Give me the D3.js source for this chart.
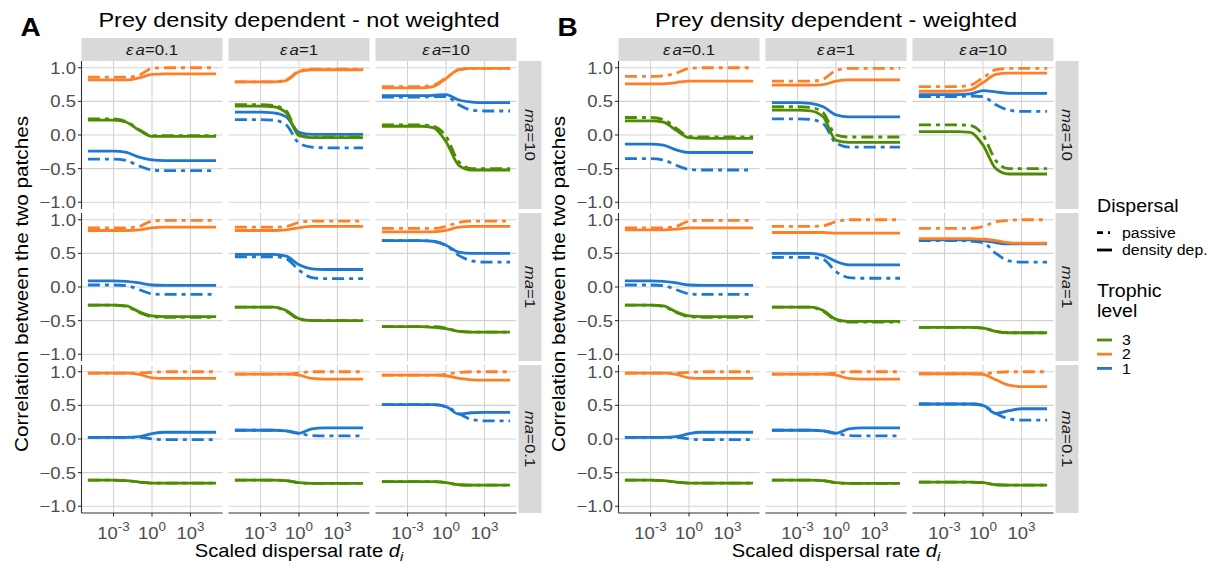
<!DOCTYPE html>
<html><head><meta charset="utf-8">
<script src="https://cdn.jsdelivr.net/npm/d3@7"></script>
<style>body{margin:0;background:#fff;} svg{display:block;} text{font-family:"Liberation Sans",Arial,sans-serif;}</style>
</head><body><svg id="c" width="1215" height="565"></svg>
<script>
// ---------- data ----------
const logX = [-5, -3, -2, -1, 0, 1, 2, 3, 5];          // log10 of scaled dispersal rate
const epsLabels = ["0.1", "1", "10"];                  // columns: εa
const maLabels = ["10", "1", "0.1"];                   // rows: ma
const trophicLevels = ["3", "2", "1"];
const dispersalTypes = ["passive", "density dep."];
const yTickValues = [-1, -0.5, 0, 0.5, 1];
const xTickExponents = [-3, 0, 3];
const panelTitles = ["Prey density dependent - not weighted", "Prey density dependent - weighted"];
const panelKeys = ["A", "B"];

// each facet: rows = [L3 passive, L3 dens.dep, L2 passive, L2 dens.dep, L1 passive, L1 dens.dep]
const A_ma10_ea01 = [
  [0.24, 0.24, 0.20, 0.08, -0.01, -0.01, -0.01, -0.01, -0.01],
  [0.22, 0.22, 0.19, 0.07, -0.02, -0.02, -0.02, -0.02, -0.02],
  [0.86, 0.86, 0.86, 0.89, 0.99, 1.0, 1.0, 1.0, 1.0],
  [0.82, 0.82, 0.82, 0.85, 0.90, 0.91, 0.91, 0.91, 0.91],
  [-0.36, -0.36, -0.38, -0.46, -0.52, -0.53, -0.53, -0.53, -0.53],
  [-0.24, -0.24, -0.26, -0.33, -0.37, -0.38, -0.38, -0.38, -0.38]];
const A_ma10_ea1 = [
  [0.45, 0.45, 0.44, 0.36, 0.0, -0.03, -0.03, -0.03, -0.03],
  [0.43, 0.43, 0.42, 0.33, -0.01, -0.04, -0.04, -0.04, -0.04],
  [0.79, 0.79, 0.79, 0.82, 0.95, 0.98, 0.98, 0.98, 0.98],
  [0.79, 0.79, 0.79, 0.81, 0.94, 0.97, 0.97, 0.97, 0.97],
  [0.23, 0.23, 0.22, 0.15, -0.12, -0.18, -0.19, -0.19, -0.19],
  [0.34, 0.34, 0.33, 0.27, 0.04, 0.01, 0.01, 0.01, 0.01]];
const A_ma10_ea10 = [
  [0.15, 0.15, 0.15, 0.13, -0.02, -0.40, -0.50, -0.50, -0.50],
  [0.13, 0.13, 0.13, 0.11, -0.10, -0.45, -0.52, -0.52, -0.52],
  [0.72, 0.72, 0.72, 0.74, 0.85, 0.97, 0.99, 0.99, 0.99],
  [0.70, 0.70, 0.70, 0.72, 0.84, 0.97, 0.99, 0.99, 0.99],
  [0.565, 0.565, 0.565, 0.57, 0.57, 0.45, 0.37, 0.357, 0.357],
  [0.585, 0.585, 0.585, 0.59, 0.60, 0.52, 0.49, 0.48, 0.48]];
const A_ma1_ea01 = [
  [-0.27, -0.27, -0.29, -0.38, -0.44, -0.45, -0.45, -0.45, -0.45],
  [-0.27, -0.27, -0.28, -0.37, -0.43, -0.44, -0.44, -0.44, -0.44],
  [0.88, 0.88, 0.88, 0.90, 0.98, 0.99, 0.99, 0.99, 0.99],
  [0.84, 0.84, 0.84, 0.85, 0.88, 0.89, 0.89, 0.89, 0.89],
  [0.03, 0.03, 0.02, -0.04, -0.10, -0.11, -0.11, -0.11, -0.11],
  [0.09, 0.09, 0.085, 0.06, 0.03, 0.025, 0.025, 0.025, 0.025]];
const A_ma1_ea1 = [
  [-0.30, -0.30, -0.30, -0.36, -0.48, -0.50, -0.50, -0.50, -0.50],
  [-0.30, -0.30, -0.30, -0.35, -0.47, -0.50, -0.50, -0.50, -0.50],
  [0.89, 0.89, 0.89, 0.90, 0.96, 0.98, 0.98, 0.98, 0.98],
  [0.84, 0.84, 0.84, 0.85, 0.88, 0.90, 0.90, 0.90, 0.90],
  [0.45, 0.45, 0.45, 0.42, 0.25, 0.14, 0.125, 0.125, 0.125],
  [0.485, 0.485, 0.485, 0.46, 0.33, 0.27, 0.26, 0.26, 0.26]];
const A_ma1_ea10 = [
  [-0.59, -0.59, -0.59, -0.59, -0.61, -0.66, -0.67, -0.67, -0.67],
  [-0.59, -0.59, -0.59, -0.60, -0.62, -0.66, -0.67, -0.67, -0.67],
  [0.87, 0.87, 0.87, 0.87, 0.90, 0.96, 0.98, 0.98, 0.98],
  [0.82, 0.82, 0.82, 0.82, 0.84, 0.89, 0.90, 0.90, 0.90],
  [0.69, 0.69, 0.69, 0.68, 0.62, 0.47, 0.39, 0.37, 0.37],
  [0.69, 0.69, 0.69, 0.68, 0.62, 0.52, 0.50, 0.50, 0.50]];
const A_ma01_ea01 = [
  [-0.61, -0.61, -0.62, -0.64, -0.655, -0.655, -0.655, -0.655, -0.655],
  [-0.61, -0.61, -0.62, -0.64, -0.655, -0.655, -0.655, -0.655, -0.655],
  [0.98, 0.98, 0.98, 0.98, 0.99, 1.0, 1.0, 1.0, 1.0],
  [0.98, 0.98, 0.98, 0.96, 0.91, 0.90, 0.90, 0.90, 0.90],
  [0.025, 0.025, 0.025, 0.025, 0.0, -0.01, -0.01, -0.01, -0.01],
  [0.025, 0.025, 0.025, 0.035, 0.08, 0.10, 0.10, 0.10, 0.10]];
const A_ma01_ea1 = [
  [-0.61, -0.61, -0.61, -0.62, -0.65, -0.66, -0.66, -0.66, -0.66],
  [-0.61, -0.61, -0.61, -0.62, -0.65, -0.66, -0.66, -0.66, -0.66],
  [0.965, 0.965, 0.965, 0.965, 0.98, 1.0, 1.0, 1.0, 1.0],
  [0.965, 0.965, 0.965, 0.965, 0.95, 0.90, 0.89, 0.89, 0.89],
  [0.13, 0.13, 0.13, 0.12, 0.085, 0.05, 0.045, 0.045, 0.045],
  [0.13, 0.13, 0.13, 0.12, 0.085, 0.15, 0.165, 0.165, 0.165]];
const A_ma01_ea10 = [
  [-0.635, -0.635, -0.635, -0.635, -0.65, -0.68, -0.685, -0.685, -0.685],
  [-0.635, -0.635, -0.635, -0.635, -0.65, -0.68, -0.685, -0.685, -0.685],
  [0.95, 0.95, 0.95, 0.95, 0.96, 0.99, 1.0, 1.0, 1.0],
  [0.95, 0.95, 0.95, 0.95, 0.94, 0.90, 0.88, 0.875, 0.875],
  [0.51, 0.51, 0.51, 0.51, 0.48, 0.38, 0.29, 0.27, 0.27],
  [0.51, 0.51, 0.51, 0.51, 0.48, 0.37, 0.39, 0.395, 0.395]];

const B_ma10_ea01 = [
  [0.26, 0.26, 0.23, 0.10, -0.02, -0.03, -0.03, -0.03, -0.03],
  [0.21, 0.21, 0.19, 0.07, -0.04, -0.05, -0.05, -0.05, -0.05],
  [0.87, 0.87, 0.88, 0.92, 0.99, 1.0, 1.0, 1.0, 1.0],
  [0.76, 0.76, 0.76, 0.78, 0.80, 0.80, 0.80, 0.80, 0.80],
  [-0.35, -0.35, -0.37, -0.45, -0.51, -0.52, -0.52, -0.52, -0.52],
  [-0.135, -0.135, -0.15, -0.22, -0.26, -0.26, -0.26, -0.26, -0.26]];
const B_ma10_ea1 = [
  [0.42, 0.42, 0.41, 0.33, 0.0, -0.03, -0.03, -0.03, -0.03],
  [0.37, 0.37, 0.36, 0.27, -0.08, -0.11, -0.11, -0.11, -0.11],
  [0.80, 0.80, 0.80, 0.83, 0.96, 0.99, 0.99, 0.99, 0.99],
  [0.74, 0.74, 0.74, 0.75, 0.80, 0.82, 0.82, 0.82, 0.82],
  [0.24, 0.24, 0.23, 0.17, -0.12, -0.18, -0.18, -0.18, -0.18],
  [0.48, 0.48, 0.47, 0.42, 0.30, 0.27, 0.27, 0.27, 0.27]];
const B_ma10_ea10 = [
  [0.15, 0.15, 0.15, 0.14, 0.0, -0.38, -0.50, -0.50, -0.50],
  [0.05, 0.05, 0.05, 0.04, -0.15, -0.50, -0.58, -0.58, -0.58],
  [0.72, 0.72, 0.72, 0.74, 0.85, 0.97, 0.99, 0.99, 0.99],
  [0.65, 0.65, 0.65, 0.67, 0.78, 0.90, 0.92, 0.92, 0.92],
  [0.57, 0.57, 0.57, 0.58, 0.57, 0.45, 0.37, 0.35, 0.35],
  [0.60, 0.60, 0.60, 0.61, 0.66, 0.64, 0.62, 0.62, 0.62]];
const B_ma1_ea01 = [
  [-0.27, -0.27, -0.29, -0.38, -0.44, -0.45, -0.45, -0.45, -0.45],
  [-0.27, -0.27, -0.28, -0.37, -0.43, -0.44, -0.44, -0.44, -0.44],
  [0.88, 0.88, 0.88, 0.90, 0.98, 0.99, 0.99, 0.99, 0.99],
  [0.85, 0.85, 0.85, 0.86, 0.88, 0.88, 0.88, 0.88, 0.88],
  [0.03, 0.03, 0.02, -0.04, -0.10, -0.11, -0.11, -0.11, -0.11],
  [0.09, 0.09, 0.085, 0.06, 0.03, 0.025, 0.025, 0.025, 0.025]];
const B_ma1_ea1 = [
  [-0.30, -0.30, -0.30, -0.36, -0.49, -0.52, -0.52, -0.52, -0.52],
  [-0.30, -0.30, -0.30, -0.35, -0.48, -0.51, -0.51, -0.51, -0.51],
  [0.90, 0.90, 0.90, 0.91, 0.97, 1.0, 1.0, 1.0, 1.0],
  [0.81, 0.81, 0.81, 0.81, 0.80, 0.80, 0.80, 0.80, 0.80],
  [0.44, 0.44, 0.44, 0.41, 0.23, 0.14, 0.13, 0.13, 0.13],
  [0.50, 0.50, 0.50, 0.47, 0.38, 0.33, 0.33, 0.33, 0.33]];
const B_ma1_ea10 = [
  [-0.60, -0.60, -0.60, -0.60, -0.61, -0.66, -0.68, -0.68, -0.68],
  [-0.60, -0.60, -0.60, -0.60, -0.61, -0.66, -0.68, -0.68, -0.68],
  [0.87, 0.87, 0.87, 0.87, 0.90, 0.97, 0.99, 1.0, 1.0],
  [0.72, 0.72, 0.72, 0.72, 0.71, 0.69, 0.66, 0.65, 0.65],
  [0.69, 0.69, 0.69, 0.68, 0.66, 0.50, 0.39, 0.37, 0.37],
  [0.70, 0.70, 0.70, 0.70, 0.69, 0.66, 0.64, 0.64, 0.64]];
const B_ma01_ea01 = [
  [-0.61, -0.61, -0.62, -0.64, -0.655, -0.655, -0.655, -0.655, -0.655],
  [-0.61, -0.61, -0.62, -0.64, -0.655, -0.655, -0.655, -0.655, -0.655],
  [0.98, 0.98, 0.98, 0.98, 0.99, 1.0, 1.0, 1.0, 1.0],
  [0.98, 0.98, 0.98, 0.96, 0.91, 0.90, 0.90, 0.90, 0.90],
  [0.025, 0.025, 0.025, 0.025, 0.0, -0.01, -0.01, -0.01, -0.01],
  [0.025, 0.025, 0.025, 0.035, 0.08, 0.10, 0.10, 0.10, 0.10]];
const B_ma01_ea1 = [
  [-0.61, -0.61, -0.61, -0.62, -0.65, -0.66, -0.66, -0.66, -0.66],
  [-0.61, -0.61, -0.61, -0.62, -0.65, -0.66, -0.66, -0.66, -0.66],
  [0.965, 0.965, 0.965, 0.965, 0.98, 1.0, 1.0, 1.0, 1.0],
  [0.965, 0.965, 0.965, 0.965, 0.95, 0.90, 0.89, 0.89, 0.89],
  [0.13, 0.13, 0.13, 0.12, 0.085, 0.05, 0.045, 0.045, 0.045],
  [0.13, 0.13, 0.13, 0.12, 0.085, 0.15, 0.165, 0.165, 0.165]];
const B_ma01_ea10 = [
  [-0.64, -0.64, -0.64, -0.64, -0.65, -0.68, -0.685, -0.685, -0.685],
  [-0.64, -0.64, -0.64, -0.64, -0.65, -0.68, -0.685, -0.685, -0.685],
  [0.97, 0.97, 0.97, 0.97, 0.97, 0.99, 1.0, 1.0, 1.0],
  [0.97, 0.97, 0.97, 0.97, 0.96, 0.88, 0.80, 0.78, 0.78],
  [0.52, 0.52, 0.52, 0.52, 0.50, 0.38, 0.30, 0.28, 0.28],
  [0.52, 0.52, 0.52, 0.52, 0.50, 0.38, 0.42, 0.45, 0.45]];

const facetsA = [[A_ma10_ea01, A_ma10_ea1, A_ma10_ea10], [A_ma1_ea01, A_ma1_ea1, A_ma1_ea10], [A_ma01_ea01, A_ma01_ea1, A_ma01_ea10]];
const facetsB = [[B_ma10_ea01, B_ma10_ea1, B_ma10_ea10], [B_ma1_ea01, B_ma1_ea1, B_ma1_ea10], [B_ma01_ea01, B_ma01_ea1, B_ma01_ea10]];

// ---------- layout & style ----------
const levelColors = ["#4d8c00", "#ff7f27", "#1e78d2"];
const dashPassive = "12,5,4,5";
const PW = 141, PH = 148, GX = 6, GY = 4, TOP = 61, STRIP = 23;
const panelLefts = [81.5, 618.5];
const SX = 1.12; // glyph width factor to match the wider rendering of the reference font

const svg = d3.select("#c");
const x = d3.scaleLog().domain([Math.pow(10, -5.5), Math.pow(10, 5.5)]).range([0, PW]);
const y = d3.scaleLinear().domain([-1.1, 1.1]).range([PH, 0]);
const line = d3.line().x(d => x(Math.pow(10, d[0]))).y(d => y(d[1])).curve(d3.curveMonotoneX);

function label(parent, tx, ty, size, anchor, rot) {
  return parent.append("text")
    .attr("transform", `translate(${tx},${ty})${rot ? ` rotate(${rot})` : ""} scale(${SX},1)`)
    .attr("font-size", size).attr("text-anchor", anchor || "start");
}

svg.append("rect").attr("width", 1215).attr("height", 565).attr("fill", "#fff");

[facetsA, facetsB].forEach((facets, p) => {
  const L = panelLefts[p];
  const right = L + 3 * PW + 2 * GX;
  const g = svg.append("g");
  label(g, L - 61, 35.5, 25, "start").attr("font-weight", "bold").text(panelKeys[p]);
  label(g, (L + right) / 2, 27, 21, "middle").attr("fill", "#000").text(panelTitles[p]);

  for (let r = 0; r < 3; r++) {
    for (let c = 0; c < 3; c++) {
      const px = L + c * (PW + GX), py = TOP + r * (PH + GY);
      const fg = g.append("g").attr("transform", `translate(${px},${py})`);
      fg.append("rect").attr("width", PW).attr("height", PH).attr("fill", "#fff");
      fg.selectAll(".gy").data(yTickValues).join("line")
        .attr("x1", 0).attr("x2", PW).attr("y1", d => y(d)).attr("y2", d => y(d))
        .attr("stroke", "#d3d3d3").attr("stroke-width", 1.1);
      fg.selectAll(".gx").data(xTickExponents).join("line")
        .attr("y1", 0).attr("y2", PH).attr("x1", d => x(Math.pow(10, d))).attr("x2", d => x(Math.pow(10, d)))
        .attr("stroke", "#d3d3d3").attr("stroke-width", 1.1);
      const series = facets[r][c];
      for (let li = 2; li >= 0; li--) {
        for (let di = 0; di < 2; di++) {
          const vals = series[li * 2 + di];
          const pts = logX.map((lx, i) => [lx, vals[i]]);
          fg.append("path").attr("d", line(pts)).attr("fill", "none")
            .attr("stroke", levelColors[li]).attr("stroke-width", 2.8)
            .attr("stroke-dasharray", di === 0 ? dashPassive : null);
        }
      }
      if (c === 0) {
        fg.append("line").attr("x1", 0).attr("x2", 0).attr("y1", 0).attr("y2", PH).attr("stroke", "#333").attr("stroke-width", 1.1);
        yTickValues.forEach(v => {
          fg.append("line").attr("x1", -3.5).attr("x2", 0).attr("y1", y(v)).attr("y2", y(v)).attr("stroke", "#333").attr("stroke-width", 1.1);
          label(fg, -5.5, y(v), 16.5, "end").attr("dy", "0.36em").attr("fill", "#4d4d4d").text(d3.format(".1f")(v));
        });
      }
      if (r === 2) {
        fg.append("line").attr("x1", 0).attr("x2", PW).attr("y1", PH).attr("y2", PH).attr("stroke", "#333").attr("stroke-width", 1.1);
        xTickExponents.forEach(e => {
          const xx = x(Math.pow(10, e));
          fg.append("line").attr("x1", xx).attr("x2", xx).attr("y1", PH).attr("y2", PH + 3.5).attr("stroke", "#333").attr("stroke-width", 1.1);
          const t = label(fg, xx, PH + 25.5, 16.5, "middle").attr("fill", "#4d4d4d");
          t.append("tspan").text("10");
          t.append("tspan").attr("dy", -7.5).attr("font-size", 12).text(String(e));
        });
      }
      if (r === 0) {
        fg.append("rect").attr("x", 0).attr("y", -STRIP).attr("width", PW).attr("height", STRIP).attr("fill", "#d9d9d9");
        const t = label(fg, PW / 2, -STRIP / 2, 15, "middle").attr("dy", "0.36em").attr("fill", "#1a1a1a");
        t.append("tspan").attr("font-style", "italic").text("ε");
        t.append("tspan").attr("font-style", "italic").attr("dx", 2).text("a");
        t.append("tspan").text("=" + epsLabels[c]);
      }
      if (c === 2) {
        fg.append("rect").attr("x", PW + 2).attr("y", 0).attr("width", STRIP).attr("height", PH).attr("fill", "#d9d9d9");
        const t = label(fg, PW + 2 + STRIP / 2, PH / 2, 15, "middle", 90).attr("dy", "0.36em").attr("fill", "#1a1a1a");
        t.append("tspan").attr("font-style", "italic").text("ma");
        t.append("tspan").text("=" + maLabels[r]);
      }
    }
  }
  const midY = TOP + (3 * PH + 2 * GY) / 2;
  label(g, L - 54, midY - 3, 18.5, "middle", -90).attr("fill", "#000").text("Correlation between the two patches");
  const xt = label(g, (L + right) / 2, 557, 18, "middle").attr("fill", "#000");
  xt.append("tspan").text("Scaled dispersal rate ");
  xt.append("tspan").attr("font-style", "italic").text("d");
  xt.append("tspan").attr("font-style", "italic").attr("font-size", 13).attr("dy", 4).text("i");
});

// ---------- legend ----------
const lg = svg.append("g").attr("transform", "translate(1097,0)");
label(lg, 0, 212, 17.5, "start").text("Dispersal");
dispersalTypes.forEach((d, i) => {
  const yy = 232.7 + i * 17.3;
  lg.append("line").attr("x1", 0).attr("x2", 15).attr("y1", yy).attr("y2", yy).attr("stroke", "#000").attr("stroke-width", 2.8)
    .attr("stroke-dasharray", i === 0 ? "6,5,2,5" : null);
  label(lg, 25, yy, 14.2, "start").attr("dy", "0.36em").text(d);
});
label(lg, 0, 296.5, 17.5, "start").text("Trophic");
label(lg, 0, 316.5, 17.5, "start").text("level");
trophicLevels.forEach((d, i) => {
  const yy = 340 + i * 14.2;
  lg.append("line").attr("x1", 0).attr("x2", 15).attr("y1", yy).attr("y2", yy).attr("stroke", levelColors[i]).attr("stroke-width", 2.8);
  label(lg, 25, yy, 14.2, "start").attr("dy", "0.36em").text(d);
});
</script></body></html>
